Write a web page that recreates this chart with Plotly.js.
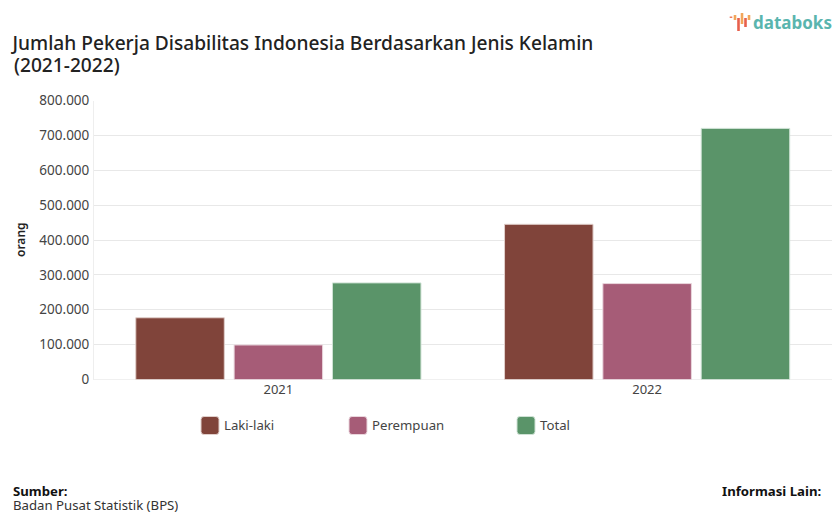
<!DOCTYPE html>
<html>
<head>
<meta charset="utf-8">
<script src="https://cdn.plot.ly/plotly-3.0.1.min.js"></script>
<style>html,body{margin:0;padding:0;background:#fff}#chart{width:833px;height:514px}</style>
</head>
<body>
<div id="chart"></div>
<script>
const years = ['2021', '2022'];
const lakiLaki = [177000, 445000];
const perempuan = [99000, 275000];
const total = [277000, 720000];
const seriesNames = ['Laki-laki', 'Perempuan', 'Total'];
const seriesColors = ['#80443A', '#A65C77', '#5A9469'];
const seriesEdges = ['#E0CFCB', '#EAD6DD', '#CFE2D5'];
const yTicks = [0, 100000, 200000, 300000, 400000, 500000, 600000, 700000, 800000];
const titleLineOne = 'Jumlah Pekerja Disabilitas Indonesia Berdasarkan Jenis Kelamin';
const titleLineTwo = '(2021-2022)';
const sourceHead = 'Sumber:';
const sourceName = 'Badan Pusat Statistik (BPS)';
const infoHead = 'Informasi Lain:';
const brandName = 'databoks';

const W = 833, H = 514;
const FONT = '"Noto Sans", "Open Sans", sans-serif';
const px = x => x / W;
const py = y => 1 - y / H;

// page-pixel rectangle with rounded corners, used for legend keys
function roundedKey(x0, y0, s, r, fill, edge) {
  const x1 = x0 + s, y1 = y0 + s;
  const p = (x, y) => px(x) + ',' + py(y);
  return {
    type: 'path', xref: 'paper', yref: 'paper', fillcolor: fill,
    line: {color: edge, width: 1},
    path: 'M' + p(x0 + r, y0) + ' L' + p(x1 - r, y0) + ' Q' + p(x1, y0) + ' ' + p(x1, y0 + r) +
          ' L' + p(x1, y1 - r) + ' Q' + p(x1, y1) + ' ' + p(x1 - r, y1) +
          ' L' + p(x0 + r, y1) + ' Q' + p(x0, y1) + ' ' + p(x0, y1 - r) +
          ' L' + p(x0, y0 + r) + ' Q' + p(x0, y0) + ' ' + p(x0 + r, y0) + ' Z'
  };
}

// small vertical strokes of the brand mark
function brandStroke(x, y0, y1, color) {
  return {type: 'line', xref: 'paper', yref: 'paper',
          x0: px(x), x1: px(x), y0: py(y0), y1: py(y1),
          line: {color: color, width: 2.6}};
}

// free-standing text placed by page pixels, with no padding around it
function label(text, x, y, anchor, size, color, weight, extra) {
  return Object.assign({
    text: text, xref: 'paper', yref: 'paper', x: px(x), y: py(y),
    xanchor: anchor, yanchor: 'middle', showarrow: false, borderpad: 0,
    font: {family: FONT, size: size, color: color, weight: weight}
  }, extra || {});
}

const seriesValues = [lakiLaki, perempuan, total];
const traces = seriesNames.map((name, i) => ({
  type: 'bar', name: name, x: years, y: seriesValues[i],
  marker: {color: seriesColors[i], line: {color: seriesEdges[i], width: 1}},
  showlegend: false, hoverinfo: 'x+y+name'
}));

const legendX = [201, 349, 517];
const keys = seriesNames.map((n, i) => roundedKey(legendX[i], 416.5, 18, 3, seriesColors[i], seriesEdges[i]));
const legendText = seriesNames.map((n, i) => label(n, legendX[i] + 22, 425, 'left', 13.2, '#444', 400));

const brand = [
  brandStroke(731, 16.5, 18, '#EE7B5B'),
  brandStroke(735, 15, 20, '#F2A65A'),
  brandStroke(738.5, 18, 31, '#E8604C'),
  brandStroke(742, 13, 24, '#F2A65A'),
  brandStroke(745.5, 18, 27, '#E8604C'),
  brandStroke(749, 15, 20, '#F2A65A')
];

const layout = {
  width: W, height: H, autosize: false,
  margin: {l: 0, r: 0, t: 0, b: 0},
  paper_bgcolor: '#fff', plot_bgcolor: '#fff',
  separators: ',.',
  barmode: 'group', bargap: 0.2, bargroupgap: 0.1,
  showlegend: false,
  title: {
    text: titleLineOne, xref: 'paper', yref: 'paper', x: px(12.5), y: py(43),
    xanchor: 'left', yanchor: 'middle', pad: {t: 0, b: 0, l: 0, r: 0},
    font: {family: FONT, size: 19.15, color: '#222', weight: 500}
  },
  xaxis: {
    domain: [px(94), px(831.5)], type: 'category', range: [-0.5, 1.5],
    showgrid: false, zeroline: false, ticks: '', showline: false,
    tickfont: {family: FONT, size: 13, color: '#444'}
  },
  yaxis: {
    domain: [py(379.5), py(100.5)], range: [0, 800000],
    tickmode: 'array', tickvals: yTicks, tickformat: ',d',
    showgrid: true, gridcolor: '#e8e8e8', gridwidth: 1,
    zeroline: true, zerolinecolor: '#f0f0f0', zerolinewidth: 1,
    showline: true, linecolor: '#eeeeee', linewidth: 1,
    ticks: '', ticklabelstandoff: 1,
    tickfont: {family: FONT, size: 13.5, color: '#444'}
  },
  shapes: keys.concat(brand),
  annotations: legendText.concat([
    label(titleLineTwo, 12.5, 65, 'left', 19.15, '#222', 500),
    label('orang', 20, 240, 'center', 12, '#222', 600, {textangle: -90}),
    label(sourceHead, 12, 490.5, 'left', 13.2, '#111', 700, {height: 14}),
    label(sourceName, 12, 505, 'left', 13.2, '#333', 400, {height: 14}),
    label(infoHead, 822, 490.5, 'right', 13.2, '#111', 700, {height: 14}),
    label(brandName, 752, 23, 'left', 17, '#5AB5AE', 700)
  ])
};

Plotly.newPlot('chart', traces, layout, {displayModeBar: false, staticPlot: true});
</script>
</body>
</html>
